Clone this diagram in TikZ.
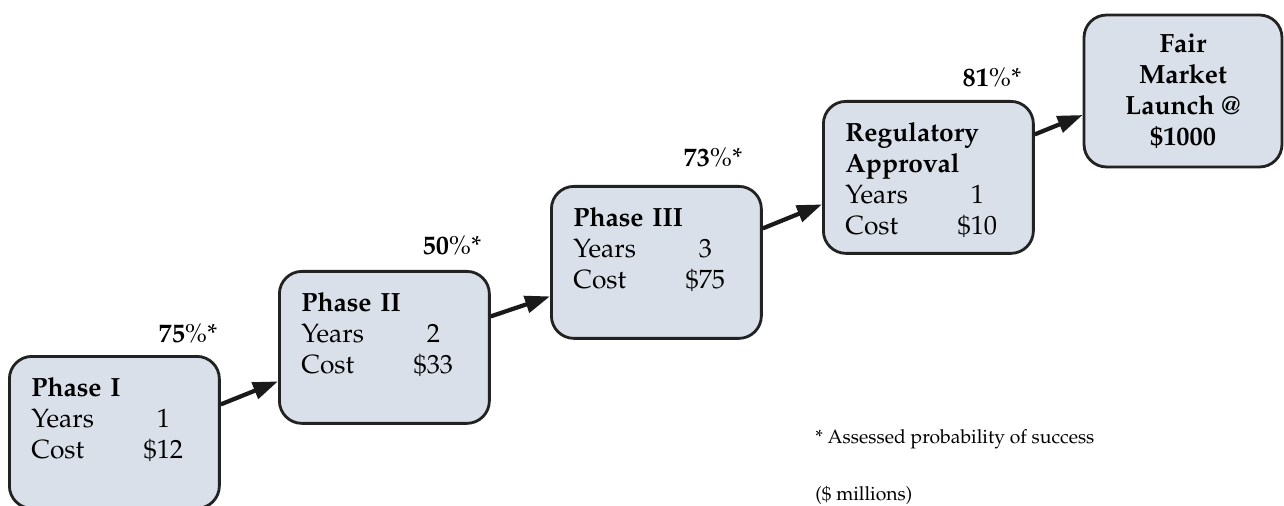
\documentclass[tikz,border=0pt]{standalone}
\usepackage[T1]{fontenc}
\usepackage{mathpazo}
\usetikzlibrary{arrows.meta}
\definecolor{boxfill}{HTML}{D9E0E9}
\definecolor{boxline}{HTML}{222222}
\definecolor{arrowcol}{HTML}{1A1A1A}
\newcommand{\stagerow}[2]{\makebox[2.64cm][l]{#1}\makebox[0pt]{#2}}

\begin{document}
\begin{tikzpicture}[x=0.02cm,y=-0.02cm,
  stage/.style={draw=boxline,fill=boxfill,line width=1.6pt,rounded corners=0.45cm,
    anchor=north west,text width=3.32cm,align=left,inner xsep=0.44cm,inner ysep=0pt,
    text height=0.8cm,text depth=2.24cm,font=\fontsize{15}{17.6}\selectfont},
  launch/.style={draw=boxline,fill=boxfill,line width=1.6pt,rounded corners=0.45cm,
    minimum width=3.96cm,minimum height=3.04cm,align=center,
    font=\fontsize{15}{17.6}\selectfont\bfseries},
  prob/.style={anchor=base,inner sep=0pt,font=\fontsize{15}{17}\selectfont},
  note/.style={anchor=base west,inner sep=0pt,font=\fontsize{11}{13}\selectfont},
  flow/.style={-{Triangle[length=0.5cm,width=0.34cm]},line width=0.085cm,draw=arrowcol}]
\useasboundingbox (0,0) rectangle (1284,506);
% development stages
\foreach \nm/\px/\py/\body in {
	p1/8/355/{\textbf{Phase I}\\\stagerow{Years}{1}\\\stagerow{Cost}{\$12}},
	p2/278/270/{\textbf{Phase II}\\\stagerow{Years}{2}\\\stagerow{Cost}{\$33}},
	p3/550/185/{\textbf{Phase III}\\\stagerow{Years}{3}\\\stagerow{Cost}{\$75}},
	reg/822/100/{\textbf{Regulatory}\\\textbf{Approval}\\\stagerow{Years}{1}\\\stagerow{Cost}{\$10}}%
	}{
	\node[stage] (\nm) at (\px,\py) {\body};
	}
\node[launch] (fair) at (1183,91) {Fair\\Market\\Launch @\\\$1000};
% transitions
\foreach \a/\b/\sa/\sb in {p1/p2/0.56/-0.68, p2/p3/0.62/-0.68, p3/reg/0.68/-0.54, reg/fair/0.86/-0.48}
	\draw[flow] ([yshift=\sa cm]\a.east) -- ([yshift=\sb cm]\b.west);
% probabilities
\foreach \nm/\px/\py/\pct in {pr1/188/342/75, pr2/452/255/50, pr3/713/167/73, pr4/992/87/81}
	\node[prob] (\nm) at (\px,\py) {\textbf{\pct}\%*};
\node[note] (note1) at (815,443) {* Assessed probability of success};
\node[note] (note2) at (815,500) {(\$ millions)};
\end{tikzpicture}
\end{document}
